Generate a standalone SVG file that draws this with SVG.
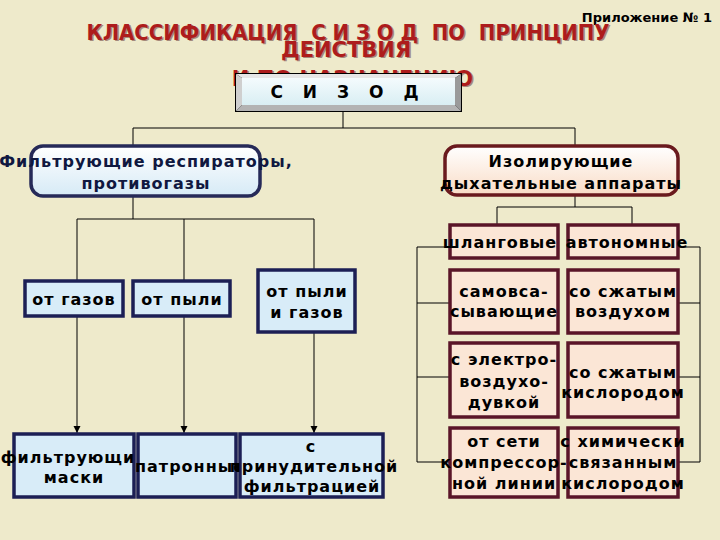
<svg xmlns="http://www.w3.org/2000/svg" width="720" height="540" viewBox="0 0 720 540">
<defs>
<linearGradient id="gBlue" x1="0" y1="0" x2="0" y2="1">
<stop offset="0" stop-color="#ffffff"/><stop offset="1" stop-color="#d6eaf6"/>
</linearGradient>
<linearGradient id="gPeach" x1="0" y1="0" x2="0" y2="1">
<stop offset="0" stop-color="#ffffff"/><stop offset="1" stop-color="#f9dcc6"/>
</linearGradient>
<linearGradient id="gFace" x1="0" y1="0" x2="0" y2="1">
<stop offset="0" stop-color="#f4fbfd"/><stop offset="1" stop-color="#d9eef3"/>
</linearGradient>
<marker id="arr" markerWidth="8" markerHeight="8" refX="7" refY="4" orient="auto" markerUnits="userSpaceOnUse">
<path d="M0,0.5 L7,4 L0,7.5 z" fill="#000"/>
</marker>
<style>
text{font-family:"DejaVu Sans","Liberation Sans",sans-serif;font-weight:bold;text-anchor:middle}
.t{font-size:16px;letter-spacing:1px;fill:#000}
.tn{font-size:16px;letter-spacing:1px;fill:#101840}
.title{font-size:21px;fill:#ad1c1c;white-space:pre}
.shadow{font-size:21px;fill:#6a3b3b;opacity:0.55;white-space:pre}
.lb{fill:#d8ecf8;stroke:#1c1f55;stroke-width:3.5}
.pb{fill:#fbe6d6;stroke:#5a1528;stroke-width:3.5}
.conn line,.conn polyline{stroke:#000;stroke-width:1;fill:none}
</style>
</defs>
<rect width="720" height="540" fill="#eeeacb"/>

<text x="712" y="22" style="font-size:13px;text-anchor:end;fill:#000">Приложение № 1</text>

<g id="title">
<text class="shadow" x="349.5" y="41" textLength="523" lengthAdjust="spacingAndGlyphs" xml:space="preserve">КЛАССИФИКАЦИЯ  С И З О Д  ПО  ПРИНЦИПУ</text>
<text class="title" x="348" y="39.5" textLength="523" lengthAdjust="spacingAndGlyphs" xml:space="preserve">КЛАССИФИКАЦИЯ  С И З О Д  ПО  ПРИНЦИПУ</text>
<text class="shadow" x="347.5" y="58">ДЕЙСТВИЯ</text>
<text class="title" x="346" y="56.5">ДЕЙСТВИЯ</text>
<text class="shadow" x="354" y="87">И ПО НАЗНАЧЕНИЮ</text>
<text class="title" x="352.5" y="85.5">И ПО НАЗНАЧЕНИЮ</text>
</g>

<g class="conn" id="connectors">
<line x1="343" y1="112" x2="343" y2="128"/>
<line x1="133" y1="128" x2="575" y2="128"/>
<line x1="133" y1="128" x2="133" y2="146"/>
<line x1="575" y1="128" x2="575" y2="146"/>
<line x1="133" y1="196" x2="133" y2="219"/>
<line x1="77" y1="219" x2="314" y2="219"/>
<line x1="77" y1="219" x2="77" y2="281"/>
<line x1="184" y1="219" x2="184" y2="281"/>
<line x1="314" y1="219" x2="314" y2="270"/>
<line x1="77" y1="316" x2="77" y2="433" marker-end="url(#arr)"/>
<line x1="184" y1="316" x2="184" y2="433" marker-end="url(#arr)"/>
<line x1="314" y1="332" x2="314" y2="433" marker-end="url(#arr)"/>
<line x1="575" y1="195" x2="575" y2="207"/>
<line x1="497" y1="207" x2="632" y2="207"/>
<line x1="497" y1="207" x2="497" y2="225"/>
<line x1="632" y1="207" x2="632" y2="225"/>
<polyline points="450,247 417,247 417,462 450,462"/>
<line x1="417" y1="303" x2="450" y2="303"/>
<line x1="417" y1="377" x2="450" y2="377"/>
<polyline points="678,247 700,247 700,462 678,462"/>
<line x1="678" y1="303" x2="700" y2="303"/>
<line x1="678" y1="377" x2="700" y2="377"/>
</g>

<g id="sizod">
<rect x="235" y="73" width="227" height="39" fill="#000"/>
<polygon points="236,74 461,74 455,78 242,78" fill="#e6e6e6"/>
<polygon points="236,74 242,78 242,105 236,111" fill="#cfcfcf"/>
<polygon points="461,74 461,111 455,105 455,78" fill="#9a9a9a"/>
<polygon points="236,111 242,105 455,105 461,111" fill="#b3b3b3"/>
<rect x="242" y="78" width="213" height="27" fill="url(#gFace)"/>
<text x="348" y="98" style="font-size:17px;letter-spacing:7px;fill:#000">С И З О Д</text>
</g>

<g id="filtering">
<rect x="31" y="146" width="229" height="50" rx="12" fill="url(#gBlue)" stroke="#262a58" stroke-width="3.5"/>
<text class="tn" x="146" y="167">Фильтрующие респираторы,</text>
<text class="tn" x="146" y="189">противогазы</text>
</g>

<g id="isolating">
<rect x="445" y="146" width="233" height="49" rx="12" fill="url(#gPeach)" stroke="#6a1a1e" stroke-width="3.5"/>
<text class="t" x="561" y="167">Изолирующие</text>
<text class="t" x="561" y="189">дыхательные аппараты</text>
</g>

<g id="gases"><rect class="lb" x="25" y="281" width="98" height="35"/><text class="t" x="74" y="305">от газов</text></g>
<g id="dust"><rect class="lb" x="133" y="281" width="97" height="35"/><text class="t" x="182" y="305">от пыли</text></g>
<g id="dustgases"><rect class="lb" x="258" y="270" width="97" height="62"/><text class="t" x="307" y="297">от пыли</text><text class="t" x="307" y="318">и газов</text></g>

<g id="masks"><rect class="lb" x="14" y="434" width="120" height="63"/><text class="t" x="68" y="463">фильтрующи</text><text class="t" x="74" y="483">маски</text></g>
<g id="cartridge"><rect class="lb" x="138" y="434" width="98" height="63"/><text class="t" x="190" y="472">патронные</text></g>
<g id="forced"><rect class="lb" x="240" y="434" width="143" height="63"/><text class="t" x="311" y="452">с</text><text class="t" x="314" y="472">принудительной</text><text class="t" x="312" y="492">фильтрацией</text></g>

<g id="hose"><rect class="pb" x="450" y="225" width="108" height="33"/><text class="t" x="500" y="248">шланговые</text></g>
<g id="autonomous"><rect class="pb" x="568" y="225" width="110" height="33"/><text class="t" x="627" y="248">автономные</text></g>
<g id="selfsuction"><rect class="pb" x="450" y="270" width="108" height="63"/><text class="t" x="504" y="297">самовса-</text><text class="t" x="504" y="317">сывающие</text></g>
<g id="compair"><rect class="pb" x="568" y="270" width="110" height="63"/><text class="t" x="623" y="297">со сжатым</text><text class="t" x="623" y="317">воздухом</text></g>
<g id="blower"><rect class="pb" x="450" y="343" width="108" height="74"/><text class="t" x="504" y="365">с электро-</text><text class="t" x="504" y="387">воздухо-</text><text class="t" x="504" y="408">дувкой</text></g>
<g id="compoxy"><rect class="pb" x="568" y="343" width="110" height="74"/><text class="t" x="623" y="378">со сжатым</text><text class="t" x="623" y="398">кислородом</text></g>
<g id="network"><rect class="pb" x="450" y="428" width="108" height="69"/><text class="t" x="504" y="447">от сети</text><text class="t" x="504" y="468">компрессор-</text><text class="t" x="504" y="489">ной линии</text></g>
<g id="chemoxy"><rect class="pb" x="568" y="428" width="110" height="69"/><text class="t" x="623" y="447">с химически</text><text class="t" x="623" y="468">связанным</text><text class="t" x="623" y="489">кислородом</text></g>
</svg>
